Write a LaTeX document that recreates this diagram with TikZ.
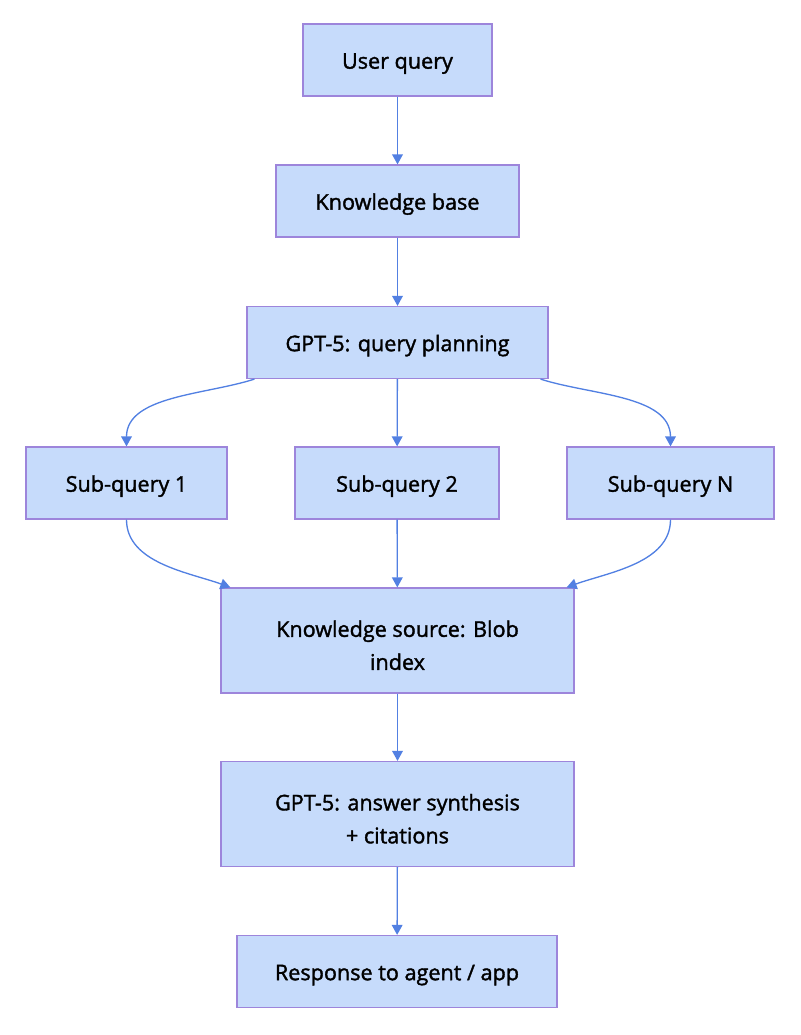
\documentclass[tikz,border=0pt]{standalone}
\usepackage{fontspec}
\setmainfont{Open Sans}[FakeBold=1.6]
\usetikzlibrary{arrows.meta}

\definecolor{boxfill}{RGB}{198,219,251}
\definecolor{boxline}{RGB}{157,133,219}
\definecolor{flow}{RGB}{82,128,226}

\tikzset{
  box/.style={draw=boxline, line width=0.9pt, fill=boxfill, minimum height=54pt,
    align=center, font=\fontsize{16.2}{24.75}\selectfont, text=black,
    text height=15pt, text depth=2pt},
  tall/.style={minimum height=78.75pt, text height=44pt, text depth=0pt},
  link/.style={draw=flow, line width=1pt, -{Triangle[length=7.5pt,width=8pt]}}
}

\begin{document}
\begin{tikzpicture}[x=0.75pt, y=0.75pt]
  \useasboundingbox (0,0) rectangle (800,-1035);

  % Main column
  \node[box, minimum width=141.75pt] (query) at (397.5,-60) {User query};
  \node[box, minimum width=182.25pt] (kb) at (397.5,-201) {Knowledge base};
  \node[box, minimum width=225.75pt] (plan) at (397.5,-342.5) {GPT-5: query planning};

  % Sub-queries
  \node[box, minimum width=150.75pt] (sub1) at (126.5,-483) {Sub-query 1};
  \node[box, minimum width=153pt] (sub2) at (397,-483) {Sub-query 2};
  \node[box, minimum width=155.25pt] (subn) at (670.5,-483) {Sub-query N};

  % Retrieval and answer
  \node[box, tall, minimum width=264.75pt] (source) at (397.5,-640.5) {Knowledge source: Blob\\index};
  \node[box, tall, minimum width=264.75pt] (answer) at (397.5,-814) {GPT-5: answer synthesis\\+ citations};
  \node[box, minimum width=240pt] (reply) at (397,-971.5) {Response to agent / app};

  % Connectors
  \draw[link] (query) -- (kb);
  \draw[link] (kb) -- (plan);
  \draw[link] ([xshift=6pt]plan.south west) to[out=-162, in=90, looseness=0.9] (sub1.north);
  \draw[link] (plan) -- (sub2);
  \draw[link] ([xshift=-6pt]plan.south east) to[out=-18, in=90, looseness=0.9] (subn.north);
  \draw[link] (sub1.south) to[out=-90, in=160, looseness=0.9] ([xshift=7.5pt]source.north west);
  \draw[link] (sub2) -- (source);
  \draw[link] (subn.south) to[out=-90, in=20, looseness=0.9] ([xshift=-6pt]source.north east);
  \draw[link] (source) -- (answer);
  \draw[link] (answer) -- (reply);
\end{tikzpicture}
\end{document}
